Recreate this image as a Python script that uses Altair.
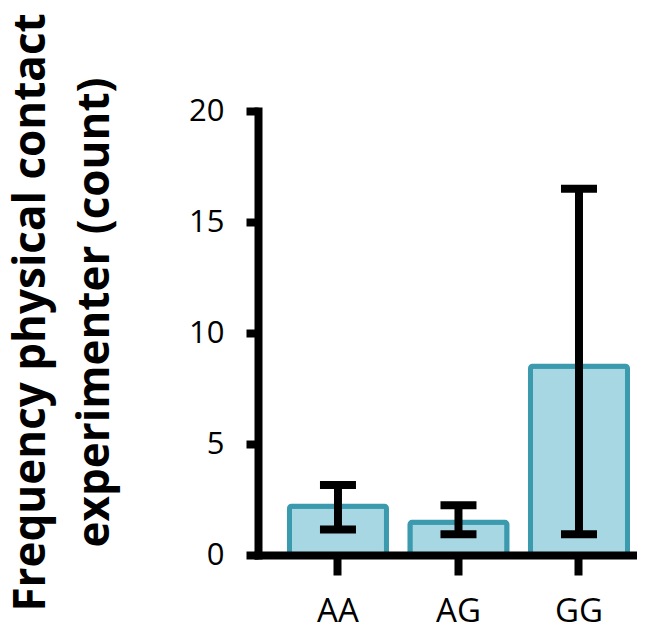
import altair as alt
import pandas as pd

genotypes = ["AA", "AG", "GG"]
means = [2.2, 1.47, 8.5]
lower = [1.15, 0.93, 0.93]
upper = [3.15, 2.24, 16.5]

df = pd.DataFrame({"genotype": genotypes, "mean": means, "lo": lower, "hi": upper})

FONT = "Open Sans"

xscale = alt.Scale(domain=genotypes, paddingInner=0.195, paddingOuter=0.17, align=0.768, round=False)
yscale = alt.Scale(domain=[0, 20], nice=False, zero=True)

x_axis = alt.Axis(title=None, labelAngle=0, labelFont=FONT, labelFontSize=33,
                  labelColor="black", labelPadding=20, tickSize=20, tickWidth=8,
                  tickColor="black", domainWidth=8, domainColor="black",
                  domainCap="square", zindex=2, labelBaseline="top", grid=False)

y_axis = alt.Axis(values=[0, 5, 10, 15, 20], grid=False,
                  title=["Frequency physical contact", "experimenter (count)"],
                  titleFont=FONT, titleFontSize=44, titleFontWeight="bold", titleColor="black",
                  titleAngle=-90, titleX=-214, titleY=201, titleAlign="center",
                  titleBaseline="alphabetic", titleLineHeight=64,
                  labelFont=FONT, labelFontSize=31, labelColor="black", labelPadding=22,
                  tickSize=12, tickWidth=8, tickColor="black",
                  domainWidth=8, domainColor="black", domainCap="square", zindex=2)

bars = alt.Chart(df).mark_bar(color="#A6D7E3", stroke="#3C9AAF", strokeWidth=5,
                              cornerRadius=2).encode(
    x=alt.X("genotype:N", scale=xscale, sort=genotypes, axis=x_axis),
    y=alt.Y("mean:Q", scale=yscale, axis=y_axis),
)

rules = alt.Chart(df).mark_rule(color="black", strokeWidth=8).encode(
    x=alt.X("genotype:N", scale=xscale, sort=genotypes, axis=x_axis),
    y=alt.Y("lo:Q", scale=yscale, axis=y_axis),
    y2="hi:Q",
)

cap_lo = alt.Chart(df).mark_tick(color="black", size=36, thickness=8, opacity=1).encode(
    x=alt.X("genotype:N", scale=xscale, sort=genotypes, axis=x_axis),
    y=alt.Y("lo:Q", scale=yscale, axis=y_axis),
)
cap_hi = alt.Chart(df).mark_tick(color="black", size=36, thickness=8, opacity=1).encode(
    x=alt.X("genotype:N", scale=xscale, sort=genotypes, axis=x_axis),
    y=alt.Y("hi:Q", scale=yscale, axis=y_axis),
)

chart = alt.layer(bars, rules, cap_lo, cap_hi).properties(
    width=379, height=444,
    background="white",
    autosize=alt.AutoSizeParams(type="none"),
    padding={"left": 250, "top": 103, "right": 0, "bottom": 70},
).configure_view(strokeWidth=0).configure_axis(grid=False)

chart.save("out.html", embed_options={"renderer": "svg", "actions": False})
